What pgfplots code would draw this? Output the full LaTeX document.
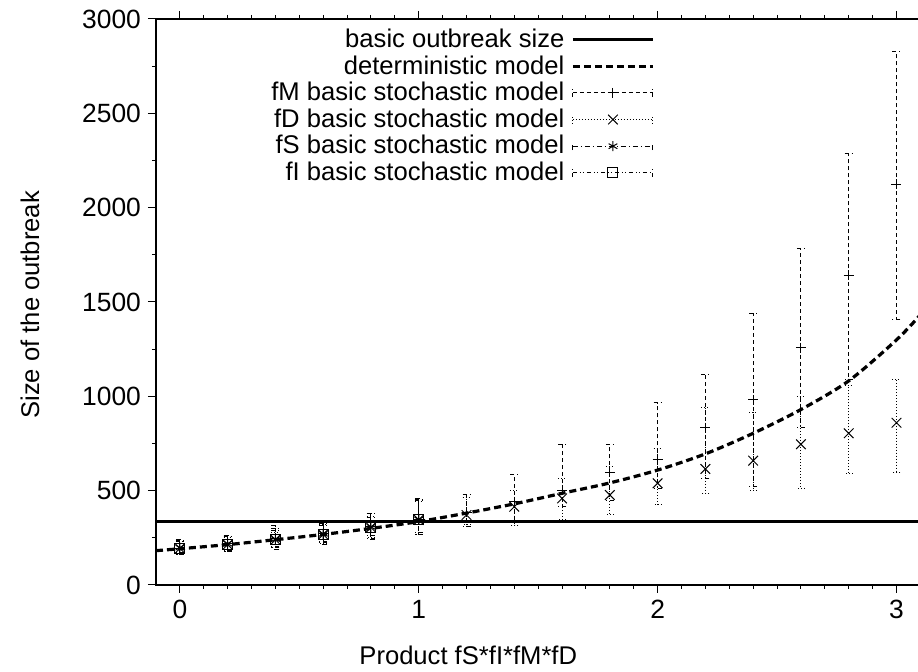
\documentclass[border=0pt]{standalone}
\usepackage{fontspec}
\setmainfont{Liberation Sans}
\usepackage{pgfplots}
\pgfplotsset{compat=1.18}

% one pixel of the reference = 0.5pt
\newcommand{\ff}{\fontsize{12.8}{15}\selectfont}
\newcommand{\tickfont}{\fontsize{13.2}{15}\selectfont}
\pgfplotsset{
  errbar/.style={only marks, black, mark size=2.5pt,
    mark options={solid, line width=0.5pt},
    error bars/y dir=both, error bars/y explicit,
    error bars/error bar style={line width=0.5pt, #1},
    error bars/error mark options={rotate=90, mark size=2pt, line width=0.5pt, #1}},
}
\newcommand{\errleg}[3]{%
  \draw[black, line width=0.5pt, #1] (0pt,0pt) -- (40pt,0pt)
       (0pt,-2pt) -- (0pt,2pt) (40pt,-2pt) -- (40pt,2pt);
  \draw[black, solid, line width=0.5pt] plot[mark=#2, mark size=#3] coordinates {(20pt,0pt)};}

\begin{document}
\begin{tikzpicture}
\useasboundingbox (-78pt,-43.5pt) rectangle (381pt,292.5pt);
% the right frame edge lies just past the cropped edge, as in the reference
\begin{axis}[
    at={(0,0)}, anchor=south west,
    scale only axis, width=381.75pt, height=283pt,
    xmin=-0.1, xmax=3.0963, ymin=0, ymax=3000,
    axis line style={line width=0.6pt},
    tick align=outside,
    xtick={0,1,2,3}, minor x tick num=9,
    ytick={0,500,...,3000}, minor y tick num=1,
    major tick length=4pt, minor tick length=2pt,
    tick style={black, line width=0.5pt},
    font=\ff,
    label style={font=\ff},
    /pgf/number format/assume math mode=true,
    /pgf/number format/1000 sep={},
    scaled y ticks=false,
    yticklabel={\tickfont\pgfmathprintnumber{\tick}\hspace{6pt}},
    xticklabel={\tickfont\pgfmathprintnumber{\tick}},
    xlabel={Product fS*fI*fM*fD},
    ylabel={Size of the outbreak},
    xlabel style={at={(rel axis cs:0.409,0)}, anchor=center, yshift=-35pt},
    ylabel style={at={(rel axis cs:0,0.495)}, anchor=center, yshift=63pt},
    legend style={draw=none, fill=none, font=\ff, at={(rel axis cs:0.6614,0.9975)},
      anchor=north east, row sep=-1.45pt, column sep=1.5pt},
    legend plot pos=right, legend cell align=right,
    legend image code/.code={\draw[#1] (0pt,0pt) -- (40pt,0pt);},
]
% basic outbreak size
\addplot[black, line width=1.5pt] coordinates {(-0.1,337) (3.0963,337)};
\addlegendentry{basic outbreak size}

% deterministic model
\addplot[black, line width=1.6pt, dash pattern=on 3.5pt off 2pt, smooth] coordinates {
  (-0.1,182) (0,192) (0.2,214) (0.4,240) (0.6,268) (0.8,300) (1.0,336)
  (1.2,381) (1.4,430) (1.6,486) (1.8,541) (2.0,609) (2.2,695) (2.4,804)
  (2.6,930) (2.8,1082) (3.0,1299) (3.1,1432)
};
\addlegendentry{deterministic model}

% fM
\addplot[mark=+, errbar={dash pattern=on 2pt off 1.5pt},
  legend image code/.code={\errleg{dash pattern=on 2pt off 1.5pt}{+}{2.5pt}}]
  table[x=x, y=y, y error plus=ep, y error minus=em] {
x    y     ep   em
0    196   36   32
0.2  218   40   38
0.4  244   56   44
0.6  273   52   48
0.8  310   68   62
1.0  348  107   83
1.2  385   97   76
1.4  442  145  112
1.6  503  244   88
1.8  597  149  147
2.0  666  300  154
2.2  834  284  269
2.4  981  459  459
2.6  1258 523  422
2.8  1641 647  551
3.0  2124 703  716
};
\addlegendentry{fM basic stochastic model}

% fD
\addplot[mark=x, errbar={dash pattern=on 0.5pt off 1pt}, mark size=3.4pt,
  legend image code/.code={\errleg{dash pattern=on 0.5pt off 1pt}{x}{3.4pt}}]
  table[x=x, y=y, y error plus=ep, y error minus=em] {
x    y     ep   em
0    194   34   34
0.2  214   36   36
0.4  240   40   40
0.6  268   50   46
0.8  305   60   55
1.0  345   95   75
1.2  371   94   48
1.4  415   88  101
1.6  459  103  111
1.8  477  150  101
2.0  539  182  115
2.2  615  327  129
2.4  659  256  159
2.6  746  252  234
2.8  804  256  212
3.0  860  227  263
};
\addlegendentry{fD basic stochastic model}

% fS
\addplot[mark=asterisk, errbar={dash pattern=on 2.5pt off 1.5pt on 0.5pt off 1.5pt},
  legend image code/.code={\errleg{dash pattern=on 2.5pt off 1.5pt on 0.5pt off 1.5pt}{asterisk}{2.5pt}}]
  table[x=x, y=y, y error plus=ep, y error minus=em] {
x    y     ep   em
0    198   42   33
0.2  219   43   37
0.4  243   73   54
0.6  271   56   59
0.8  308   72   66
1.0  347  112   82
};
\addlegendentry{fS basic stochastic model}

% fI
\addplot[mark=square, errbar={dash pattern=on 2pt off 1.5pt on 0.5pt off 1pt on 0.5pt off 1.5pt},
  legend image code/.code={\errleg{dash pattern=on 2pt off 1.5pt on 0.5pt off 1pt on 0.5pt off 1.5pt}{square}{2.5pt}}]
  table[x=x, y=y, y error plus=ep, y error minus=em] {
x    y     ep   em
0    195   40   25
0.2  216   39   31
0.4  242   48   37
0.6  270   45   40
0.8  306   54   44
1.0  346  104   66
};
\addlegendentry{fI basic stochastic model}
\end{axis}
\end{tikzpicture}
\end{document}
